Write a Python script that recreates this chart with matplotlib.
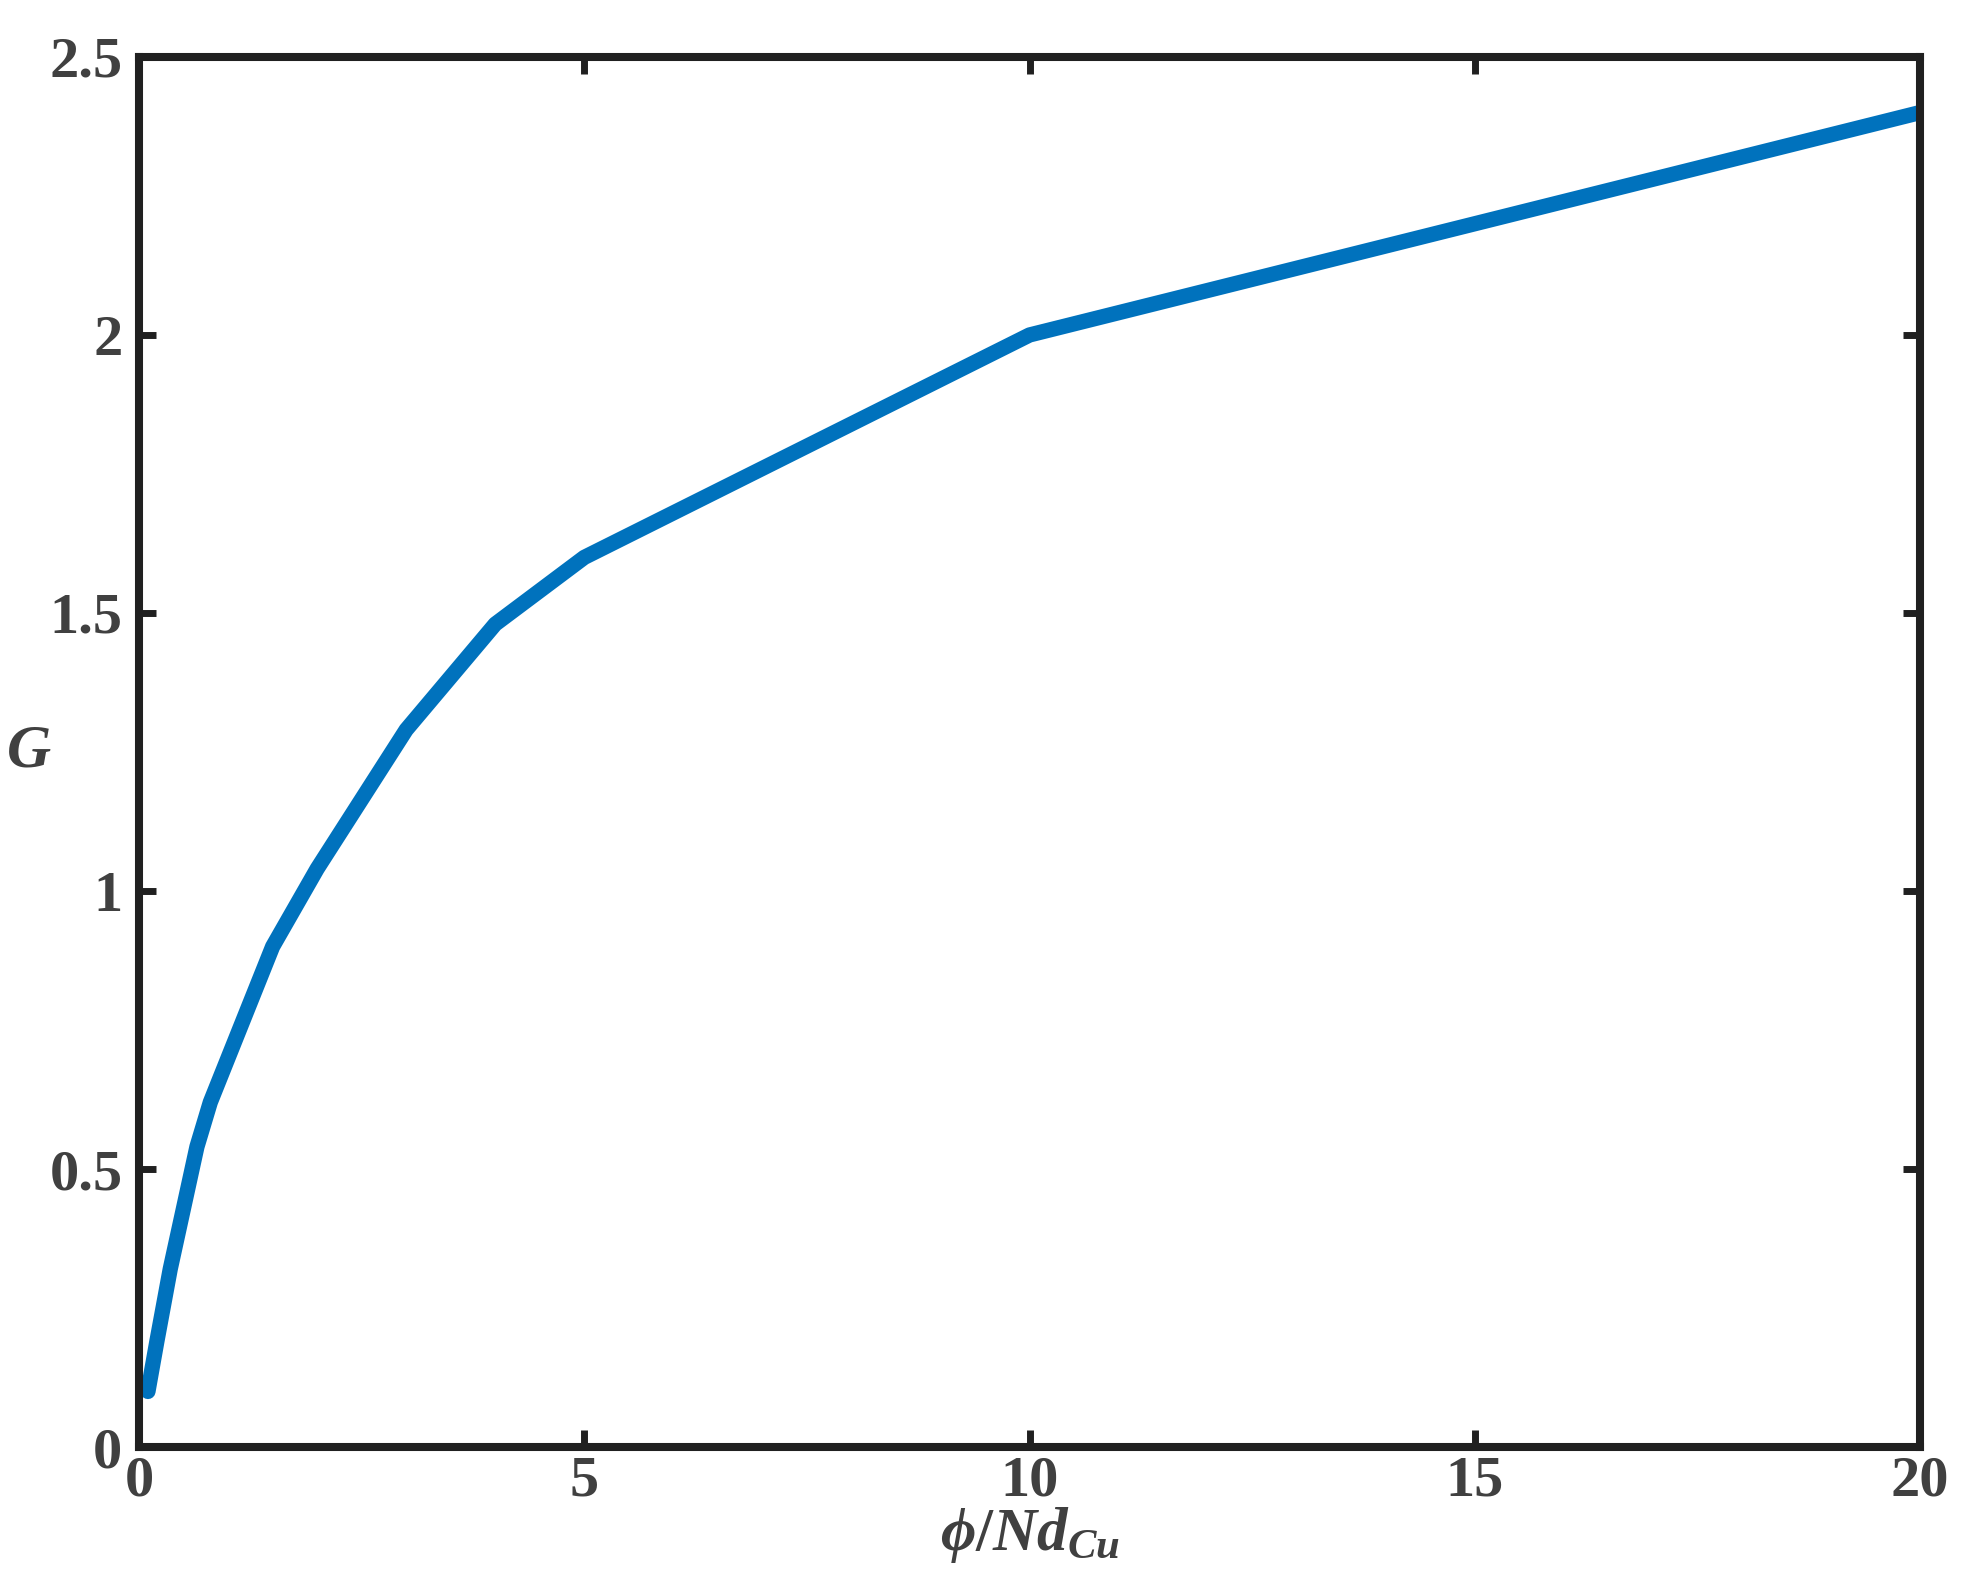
import matplotlib
matplotlib.use("Agg")
import matplotlib.pyplot as plt
from matplotlib.ticker import FuncFormatter

# values
phi_over_ndcu = [0.1, 0.2, 0.35, 0.5, 0.65, 0.8, 1.0, 1.25, 1.5, 2.0, 3.0, 4.0, 5.0, 10.0, 20.0]
G = [0.10, 0.19, 0.32, 0.43, 0.54, 0.62, 0.70, 0.80, 0.90, 1.04, 1.29, 1.48, 1.60, 2.00, 2.40]

x_ticks = [0, 5, 10, 15, 20]
y_ticks = [0, 0.5, 1, 1.5, 2, 2.5]

plt.rcParams['font.family'] = ['Liberation Serif', 'DejaVu Serif']
plt.rcParams['font.weight'] = 'bold'
plt.rcParams['mathtext.fontset'] = 'custom'
plt.rcParams['mathtext.it'] = 'Liberation Serif:italic:bold'
plt.rcParams['mathtext.rm'] = 'Liberation Serif:bold'

text_col = '#404040'
axis_col = '#202020'

fig = plt.figure(figsize=(19.64, 15.86), dpi=100)
ax = fig.add_axes([0.0708, 0.0876, 0.9068, 0.8765])

ax.plot(phi_over_ndcu, G, color='#0072BD', lw=11, solid_capstyle='round',
        solid_joinstyle='round')

ax.set_xlim(0, 20)
ax.set_ylim(0, 2.5)
ax.set_xticks(x_ticks)
ax.set_yticks(y_ticks)
ax.yaxis.set_major_formatter(FuncFormatter(lambda v, p: f"{v:g}"))
ax.xaxis.set_major_formatter(FuncFormatter(lambda v, p: f"{v:g}"))

for s in ax.spines.values():
    s.set_linewidth(5.8)
    s.set_color(axis_col)

ax.tick_params(direction='in', length=12, width=5, color=axis_col,
               top=True, right=True, labelsize=42, labelcolor=text_col)
ax.tick_params(axis='x', pad=6)
ax.tick_params(axis='y', pad=12)

ax.set_xlabel(r'$\phi/Nd_{Cu}$', fontsize=44, color=text_col, labelpad=-2)
ax.set_ylabel(r'$G$', fontsize=44, color=text_col, rotation=0,
              va='center', ha='center')
ax.yaxis.set_label_coords(-0.062, 0.5)

fig.savefig('out.png', dpi=100)
